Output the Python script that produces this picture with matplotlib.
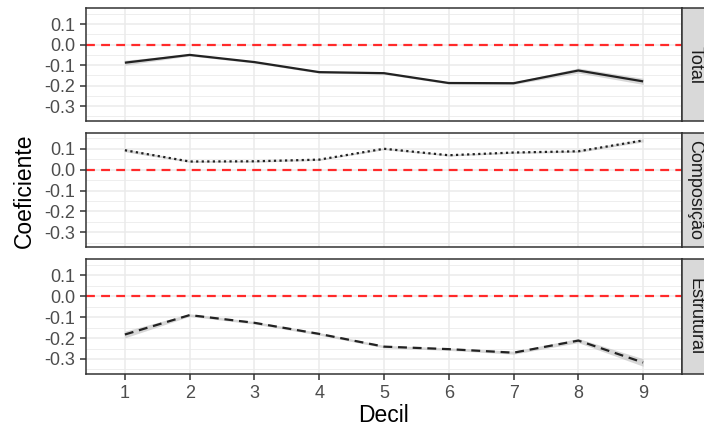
import matplotlib
matplotlib.use("Agg")
import matplotlib.pyplot as plt
import numpy as np

plt.rcParams['font.family'] = ['Liberation Sans', 'DejaVu Sans']

# Decomposition coefficients by income decile
deciles = [1, 2, 3, 4, 5, 6, 7, 8, 9]
panel_names = ["Total", "Composição", "Estrutural"]

total = [-0.088, -0.050, -0.085, -0.134, -0.139, -0.187, -0.188, -0.126, -0.179]
composicao = [0.093, 0.039, 0.040, 0.048, 0.100, 0.069, 0.082, 0.088, 0.140]
estrutural = [-0.183, -0.090, -0.127, -0.180, -0.241, -0.253, -0.270, -0.212, -0.317]

# half-width of the confidence bands
total_ci = [0.012, 0.005, 0.005, 0.005, 0.005, 0.005, 0.006, 0.012, 0.015]
composicao_ci = [0.007, 0.004, 0.004, 0.004, 0.004, 0.004, 0.004, 0.005, 0.007]
estrutural_ci = [0.016, 0.006, 0.006, 0.006, 0.006, 0.006, 0.007, 0.010, 0.018]

y_ticks = [-0.3, -0.2, -0.1, 0.0, 0.1]
y_tick_labels = ["-0.3", "-0.2", "-0.1", "0.0", "0.1"]

series = [
    (total, total_ci, "solid"),
    (composicao, composicao_ci, (0, (1.0, 1.5))),
    (estrutural, estrutural_ci, (0, (4, 2.6))),
]

W, H = 704, 433
fig = plt.figure(figsize=(W / 100, H / 100), dpi=100)
fig.patch.set_facecolor("white")

left_px, right_px = 86, 682
panel_rows = [(8.3, 121), (132.7, 247.3), (259.3, 374)]
strip_right_px = 710

tick_size = 13
title_size = 16.5
border_col = "#333333"
grid_col = "#EBEBEB"

for i, ((top, bot), name, (vals, ci, ls)) in enumerate(zip(panel_rows, panel_names, series)):
    ax = fig.add_axes([left_px / W, 1 - bot / H, (right_px - left_px) / W, (bot - top) / H])
    x = np.array(deciles)
    v = np.array(vals)
    c = np.array(ci)

    ax.set_xlim(0.4, 9.6)
    ax.set_ylim(-0.372, 0.177)

    # grid
    for yv in np.arange(-0.35, 0.2, 0.05):
        is_major = any(abs(yv - t) < 1e-9 for t in y_ticks)
        ax.axhline(yv, color=grid_col, lw=1.1 if is_major else 0.6, zorder=0)
    for xv in deciles:
        ax.axvline(xv, color=grid_col, lw=1.1, zorder=0)

    ax.fill_between(x, v - c, v + c, color="#BDBDBD", alpha=0.6, lw=0, zorder=1)
    ax.axhline(0.0, color="#FF2A2A", lw=1.6, ls=(0, (4, 2.8)), zorder=2)
    ax.plot(x, v, color="#222222", lw=1.6, ls=ls, zorder=3,
            dash_capstyle="butt", solid_capstyle="butt")

    ax.set_yticks(y_ticks)
    ax.set_yticklabels(y_tick_labels)
    ax.set_xticks(deciles)
    if i < 2:
        ax.tick_params(axis="x", length=0, labelbottom=False)
    else:
        ax.tick_params(axis="x", length=4, width=1.1, color=border_col,
                       labelsize=tick_size, labelcolor="#4D4D4D", pad=4)
    ax.tick_params(axis="y", length=4, width=1.1, color=border_col,
                   labelsize=tick_size, labelcolor="#4D4D4D", pad=4)
    for sp in ax.spines.values():
        sp.set_color(border_col)
        sp.set_linewidth(1.1)
    ax.set_facecolor("white")

    # facet strip on the right
    sax = fig.add_axes([right_px / W, 1 - bot / H, (strip_right_px - right_px) / W, (bot - top) / H])
    sax.set_facecolor("#D9D9D9")
    sax.set_xticks([])
    sax.set_yticks([])
    for sp in sax.spines.values():
        sp.set_color(border_col)
        sp.set_linewidth(1.1)
    fig.text(695 / W, 1 - (top + bot) / 2 / H, name, rotation=-90, ha="center", va="center",
             fontsize=tick_size, color="#1A1A1A")

fig.text(384 / W, 1 - 415 / H, "Decil", ha="center", va="center", fontsize=title_size, color="black")
fig.text(24 / W, 1 - 191 / H, "Coeficiente", ha="center", va="center", rotation=90,
         fontsize=title_size, color="black")

fig.savefig("out.png", dpi=100)
